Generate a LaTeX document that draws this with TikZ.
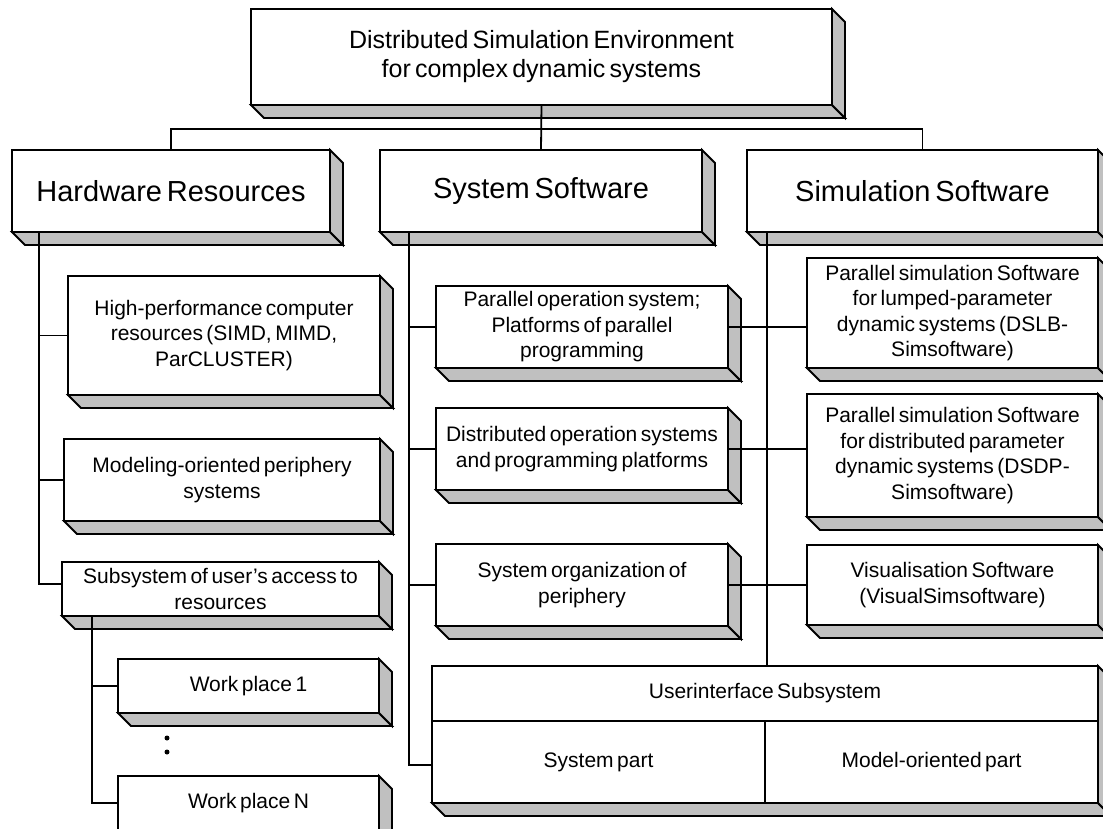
\documentclass[tikz,border=0pt]{standalone}
\usepackage{fontspec}
\setmainfont{Liberation Sans}[WordSpace=0.6]
\usetikzlibrary{calc}

\definecolor{shade}{HTML}{C0C0C0}

\tikzset{
  x=1pt, y=-1pt,
  slab/.style={draw, fill=white, line width=1.8pt, align=center,
    inner sep=0pt, outer sep=0pt,
    font=\fontsize{21}{25.5}\selectfont},
  headline/.style={font=\fontsize{29}{34}\selectfont},
  titleline/.style={font=\fontsize{25}{29}\selectfont},
  label/.style={inner sep=0pt, font=\fontsize{21}{25.5}\selectfont},
  face/.style={draw, fill=shade, line width=1.8pt, line join=miter},
  link/.style={line width=1.8pt},
}

% a raised box: name, left, top, right, bottom, extra style, text
\newcommand\slabbox[7]{%
  \node[slab, #6, minimum width={#4-#2}, minimum height={#5-#3}]
    (#1) at ({(#2+#4)/2},{(#3+#5)/2}) {#7};
  \filldraw[face] (#1.south west) -- ++(13,13)
    -- ([shift={(13,13)}]#1.south east) -- (#1.south east) -- cycle;
  \filldraw[face] (#1.north east) -- ++(13,13)
    -- ([shift={(13,13)}]#1.south east) -- (#1.south east) -- cycle;
}

\begin{document}
\begin{tikzpicture}
\useasboundingbox (0,0) rectangle (1103,828);
\fill[white] (0,0) rectangle (1103,828);
\clip (0,0) rectangle (1103,828);

% root and the three branches
\slabbox{top}{251}{9}{832}{105}{titleline}{Distributed Simulation Environment\\for complex dynamic systems}
\slabbox{hw}{12}{150}{330}{232}{headline}{Hardware Resources}
\slabbox{sys}{380}{150}{702}{232}{headline}{System Software}
\slabbox{sim}{747}{150}{1098}{232}{headline}{Simulation Software}

% hardware column
\slabbox{hpc}{68}{276}{380}{395}{}{High-performance computer\\resources (SIMD, MIMD,\\ParCLUSTER)}
\slabbox{mod}{64}{439}{380}{521}{}{Modeling-oriented periphery\\systems}
\slabbox{sub}{62}{562}{379}{616}{}{Subsystem of user's access to\\resources}
\slabbox{wpa}{118}{659}{379}{713}{}{Work place 1}
\slabbox{wpn}{118}{776}{379}{830}{}{Work place N}

% system software column
\slabbox{pos}{436}{286}{728}{368}{}{Parallel operation system;\\Platforms of parallel\\programming}
\slabbox{dist}{436}{408}{728}{490}{}{Distributed operation systems\\and programming platforms}
\slabbox{sorg}{436}{544}{728}{626}{}{System organization of\\periphery}

% simulation software column
\slabbox{lump}{807}{258}{1098}{368}{}{Parallel simulation Software\\for lumped-parameter\\dynamic systems (DSLB-\\Simsoftware)}
\slabbox{dsdp}{807}{394}{1098}{517}{}{Parallel simulation Software\\for distributed parameter\\dynamic systems (DSDP-\\Simsoftware)}
\slabbox{vis}{807}{545}{1098}{625}{}{Visualisation Software\\(VisualSimsoftware)}

% user interface block
\slabbox{ui}{432}{666}{1098}{803}{}{}
\coordinate (uimid) at (765,721);
\draw[link] (ui.west |- uimid) -- (ui.east |- uimid);
\draw[link] (uimid) -- (uimid |- ui.south);
\node[label] (uititle) at (765,693) {Userinterface Subsystem};
\node[label] (uisys) at (598.5,762) {System part};
\node[label] (uimodel) at (931.5,762) {Model-oriented part};

% ellipsis between the work places
\node[circle, fill, inner sep=0pt, minimum size=5pt] (dota) at (167,738) {};
\node[circle, fill, inner sep=0pt, minimum size=5pt] (dotb) at (167,752) {};

% top-level connectors
\coordinate (bus) at (541,129);
\draw[link] (top.south) -- (sys.north);
\draw[link] (hw.north) |- (bus) -| (sim.north);

% hardware trunk
\coordinate (hwt) at (39,232);
\draw[link] (hwt) |- ([yshift=5pt]sub.west);
\draw[link] (hwt |- hpc.west) -- (hpc.west);
\draw[link] (hwt |- mod.west) -- (mod.west);

% work place trunk
\coordinate (subt) at (92,616);
\draw[link] (subt) |- (wpn.west);
\draw[link] (subt |- wpa.west) -- (wpa.west);

% system software trunk
\coordinate (syst) at (409,232);
\draw[link] (syst) |- ([yshift=-3pt]uisys -| ui.west);
\draw[link] (syst |- pos.west) -- (pos.west);
\draw[link] (syst |- dist.west) -- (dist.west);
\draw[link] (syst |- sorg.west) -- (sorg.west);

% simulation software trunk
\coordinate (simt) at (767,232);
\draw[link] (simt) -- (simt |- ui.north);

% cross links between middle and right columns
\draw[link] (pos.east) -- (pos.east -| lump.west);
\draw[link] (dist.east) -- (dist.east -| dsdp.west);
\draw[link] (sorg.east) -- (sorg.east -| vis.west);
\end{tikzpicture}
\end{document}
